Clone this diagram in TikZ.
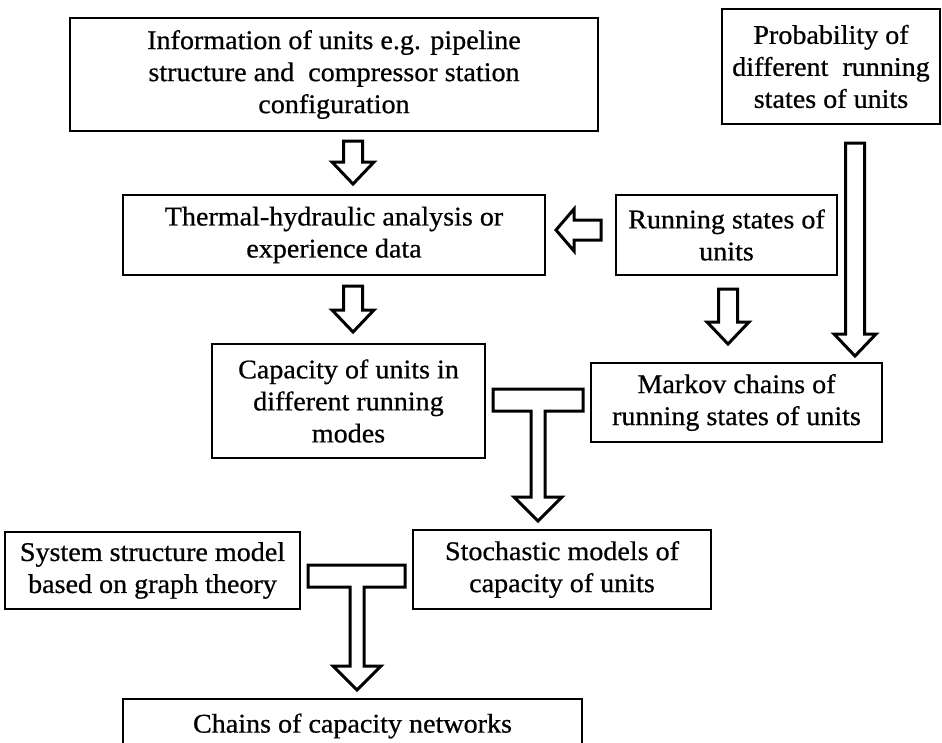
\documentclass[tikz,border=0pt]{standalone}
\usepackage{fontspec}
\setmainfont{Liberation Serif}[FakeStretch=1.04, FakeBold=0.7]
\usetikzlibrary{calc}

\tikzset{
  box/.style={draw, line width=2pt, align=center, inner sep=0pt,
    font=\fontsize{27}{32}\selectfont,
    execute at begin node={\rule{0pt}{27pt}}},
  blockarrow/.style={draw, line width=3pt, line join=miter, fill=white}
}

% hollow arrow going down: x, from node, to node, gap at top, gap at tip
\newcommand{\blockdown}[5]{%
  \draw[blockarrow] let \p0=(#1,0), \p1=(#2.south), \p2=(#3.north) in
    (\x0-9.5pt,\y1-#4) -- (\x0-9.5pt,\y2+#5+22pt) -- (\x0-21pt,\y2+#5+22pt)
    -- (\x0,\y2+#5) -- (\x0+21pt,\y2+#5+22pt) -- (\x0+9.5pt,\y2+#5+22pt)
    -- (\x0+9.5pt,\y1-#4) -- cycle;}

% hollow T joining two nodes into one below: left, right, target, stem x, bar top
\newcommand{\tjoin}[5]{%
  \draw[blockarrow] let \p0=(#4,#5), \p1=(#1.east), \p2=(#2.west), \p3=(#3.north) in
    (\x1+7pt,\y0) -- (\x2-7pt,\y0) -- (\x2-7pt,\y0-22pt) -- (\x0+7pt,\y0-22pt)
    -- (\x0+7pt,\y3+32pt) -- (\x0+24pt,\y3+32pt) -- (\x0,\y3+8pt)
    -- (\x0-24pt,\y3+32pt) -- (\x0-7pt,\y3+32pt) -- (\x0-7pt,\y0-22pt)
    -- (\x1+7pt,\y0-22pt) -- cycle;}

\begin{document}
\begin{tikzpicture}[x=1pt,y=-1pt]
  \useasboundingbox (0,0) rectangle (942,742);
  \node[box, minimum width=528pt, minimum height=113pt] (info) at (334,74.5)
    {Information of units e.g. pipeline\\ structure and\ \ compressor station\\ configuration};
  \node[box, minimum width=218pt, minimum height=115pt] (prob) at (831,66.5)
    {Probability of\\ different\ \ running\\ states of units};
  \node[box, minimum width=422pt, minimum height=80pt] (thermal) at (334,235)
    {Thermal-hydraulic analysis or\\ experience data};
  \node[box, minimum width=221pt, minimum height=80pt] (running) at (726.5,235)
    {Running states of\\ units};
  \node[box, minimum width=273pt, minimum height=114pt] (capacity) at (348.5,401)
    {Capacity of units in\\ different running\\ modes};
  \node[box, minimum width=291pt, minimum height=79pt] (markov) at (736.5,402.5)
    {Markov chains of\\ running states of units};
  \node[box, minimum width=295pt, minimum height=77pt] (system) at (152.5,570.5)
    {System structure model\\ based on graph theory};
  \node[box, minimum width=298pt, minimum height=79pt] (stochastic) at (562,569.5)
    {Stochastic models of\\ capacity of units};
  \node[box, minimum width=459pt, minimum height=46pt] (chains) at (352.5,722)
    {Chains of capacity networks};

  \blockdown{353}{info}{thermal}{9pt}{10pt}
  \blockdown{353}{thermal}{capacity}{10pt}{11pt}
  \blockdown{728}{running}{markov}{13pt}{18pt}
  \blockdown{855}{prob}{markov}{18pt}{6pt}
  \draw[blockarrow] let \p0=(0,230), \p1=(running.west), \p2=(thermal.east) in
    (\x1-14pt,\y0+10pt) -- (\x2+28pt,\y0+10pt) -- (\x2+28pt,\y0+21pt)
    -- (\x2+10pt,\y0) -- (\x2+28pt,\y0-21pt) -- (\x2+28pt,\y0-10pt)
    -- (\x1-14pt,\y0-10pt) -- cycle;
  \tjoin{capacity}{markov}{stochastic}{538}{389}
  \tjoin{system}{stochastic}{chains}{357}{565}
\end{tikzpicture}
\end{document}
